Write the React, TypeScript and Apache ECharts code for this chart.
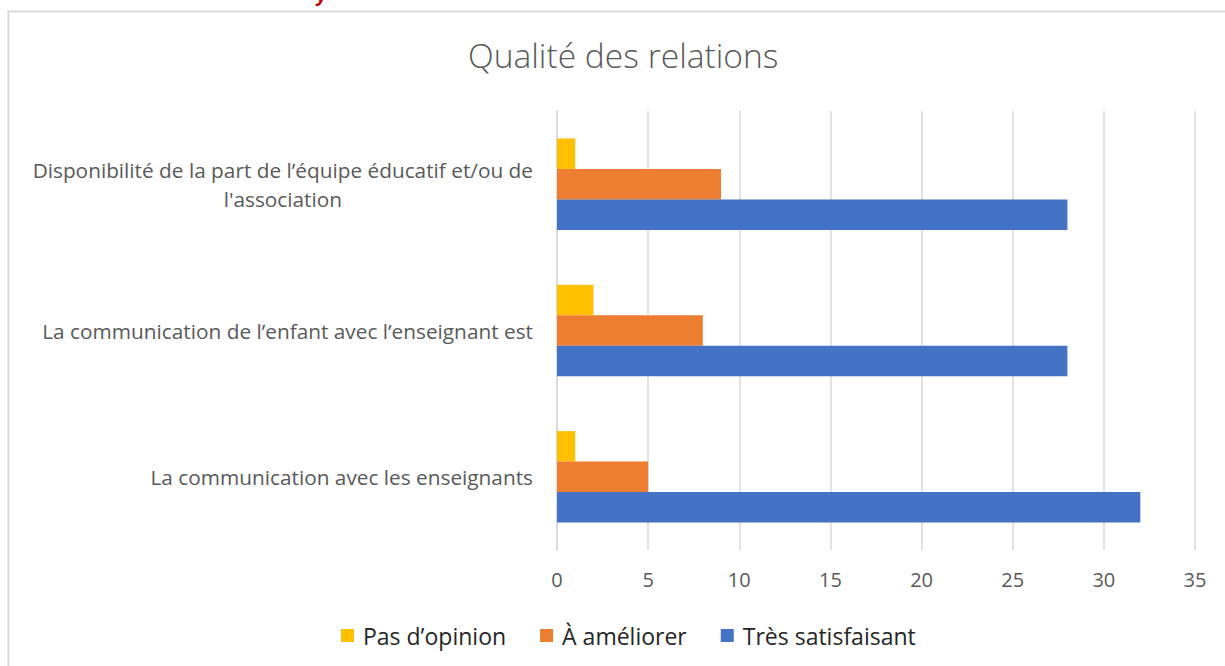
import React, { useEffect, useRef } from "react";
import * as echarts from "echarts";

const categories = [
  "La communication avec les enseignants",
  "La communication de l\u2019enfant avec l\u2019enseignant est",
  "Disponibilit\u00e9 de la part de l\u2019\u00e9quipe \u00e9ducatif et/ou de\nl'association",
];
const seriesNames = ["Pas d\u2019opinion", "\u00c0 am\u00e9liorer", "Tr\u00e8s satisfaisant"];
const pasOpinion = [1, 2, 1];
const aAmeliorer = [5, 8, 9];
const tresSatisfaisant = [32, 28, 28];
const xTicks = [0, 5, 10, 15, 20, 25, 30, 35];
const colors = ["#FFC000", "#ED7D31", "#4472C4"];
const seriesValues = [pasOpinion, aAmeliorer, tresSatisfaisant];

const FONT = "'Open Sans', sans-serif";

export default function App() {
  const ref = useRef<HTMLDivElement>(null);
  useEffect(() => {
    if (!ref.current) return;
    const chart = echarts.init(ref.current, undefined, { renderer: "svg" });
    chart.setOption({
      animation: false,
      backgroundColor: "#ffffff",
      title: {
        text: "Qualit\u00e9 des relations",
        left: 463,
        top: 33,
        textStyle: { fontFamily: FONT, fontSize: 33.6, fontWeight: 300, color: "#595959" },
      },
      legend: {
        data: seriesNames,
        bottom: 14,
        left: 336,
        itemWidth: 13,
        itemHeight: 13,
        itemGap: 34,
        icon: "rect",
        textStyle: { fontFamily: FONT, fontSize: 23, color: "#262626", padding: [0, 0, 0, 4] },
      },
      grid: { left: 557, right: 30, top: 111, bottom: 116, containLabel: false },
      xAxis: {
        type: "value",
        min: xTicks[0],
        max: xTicks[xTicks.length - 1],
        interval: 5,
        axisLine: { show: false },
        axisTick: { show: false },
        splitLine: { show: true, lineStyle: { color: "#d9d9d9", width: 1.5 } },
        axisLabel: { fontFamily: FONT, fontSize: 20, color: "#595959", margin: 19 },
      },
      yAxis: {
        type: "category",
        data: categories,
        axisLine: { show: true, lineStyle: { color: "#d9d9d9", width: 1.5 } },
        axisTick: { show: false },
        axisLabel: {
          margin: 24,
          formatter: (v: string) =>
            v
              .split("\n")
              .map((l) => "{c|" + l + "}")
              .join("\n"),
          rich: {
            c: { fontFamily: FONT, fontSize: 20.8, color: "#595959", align: "center", lineHeight: 29 },
          },
        },
      },
      series: seriesNames.map((name, i) => ({
        name,
        type: "bar",
        data: seriesValues[i],
        itemStyle: { color: colors[i] },
        barGap: "0%",
        barCategoryGap: "37.5%",
      })),
      graphic: [
        {
          type: "rect",
          silent: true,
          z: -1,
          shape: { x: 8.5, y: 11.5, width: 1300, height: 700 },
          style: { fill: "none", stroke: "#d9d9d9", lineWidth: 2 },
        },
        {
          type: "text",
          x: 317,
          y: -14,
          style: { text: "y", fill: "#c00000", font: "italic bold 18px " + FONT },
        },
      ],
    });
    return () => chart.dispose();
  }, []);
  return (
    <div
      ref={ref}
      style={{ position: "fixed", left: 0, top: 0, width: 1225, height: 666 }}
    />
  );
}
